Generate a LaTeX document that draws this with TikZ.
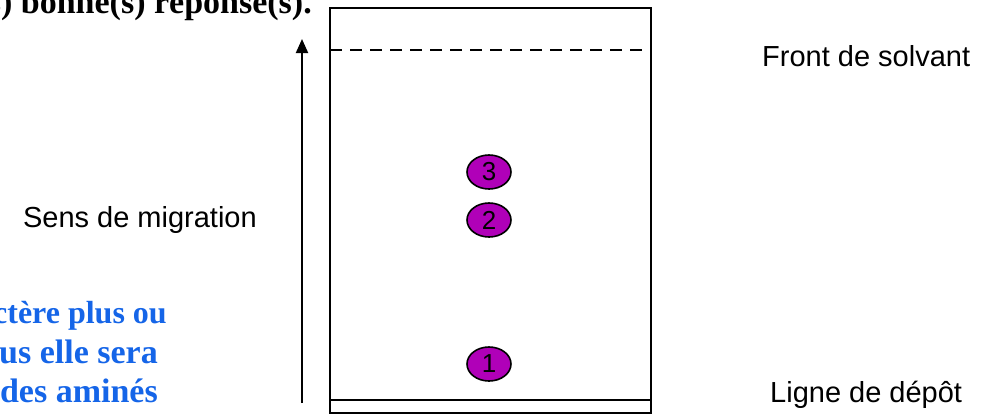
\documentclass[tikz,border=0pt]{standalone}
\usepackage{fontspec}
\setmainfont{Liberation Sans}
\newfontfamily\serifb{Liberation Serif}
\usetikzlibrary{arrows.meta,shapes.geometric}
\definecolor{spotfill}{RGB}{176,0,184}
\definecolor{bluetxt}{RGB}{21,101,232}
\begin{document}
\begin{tikzpicture}[x=1pt,y=-1pt,
  lbl/.style={font=\fontsize{29}{34}\selectfont, inner sep=0pt},
  spot/.style={ellipse, draw=black, line width=1.6pt, fill=spotfill, minimum width=44pt, minimum height=34pt, inner sep=0pt, font=\fontsize{26}{30}\selectfont, text=black},
  plate/.style={line width=2pt},
  bluetext/.style={font=\serifb\bfseries\fontsize{34}{40}\selectfont, text=bluetxt, anchor=base east, inner sep=0pt},
  toptext/.style={font=\serifb\bfseries\fontsize{34}{40}\selectfont, anchor=base east, inner sep=0pt}]
\useasboundingbox (0,0) rectangle (986,416);
\clip (0,0) rectangle (986,416);
% plate
\coordinate (pTL) at (330,8);
\coordinate (pBR) at (651,413);
\draw[plate] (pTL) rectangle (pBR);
\coordinate (dl) at (330,50);
\coordinate (dr) at (651,50);
\draw[plate, dash pattern=on 12pt off 8pt] (dl) -- (dr);
\coordinate (bl) at (330,400);
\coordinate (br) at (651,400);
\draw[plate] (bl) -- (br);
% arrow
\coordinate (aS) at (302,403);
\coordinate (aE) at (302,39);
\draw[line width=2pt, -{Triangle[length=14pt,width=12pt]}] (aS) -- (aE);
% spots
\node[spot] (s3) at (489,172) {3};
\node[spot] (s2) at (489,220) {2};
\node[spot] (s1) at (489,364) {1};
% labels
\node[lbl, anchor=base west] (front) at (762,66) {Front de solvant};
\node[lbl, anchor=base west] (ligne) at (770,402) {Ligne de dépôt};
\node[lbl, anchor=base east] (sens) at (257,227) {Sens de migration};
% cropped surrounding text
\node[toptext] (top) at (312,13) {(les) bonne(s) réponse(s).};
\node[bluetext, font=\serifb\bfseries\fontsize{32}{38}\selectfont] (b1) at (167,323) {ctère plus ou};
\node[bluetext] (b2) at (158,363) {us elle sera};
\node[bluetext] (b3) at (158,402) {des aminés};
\end{tikzpicture}
\end{document}
